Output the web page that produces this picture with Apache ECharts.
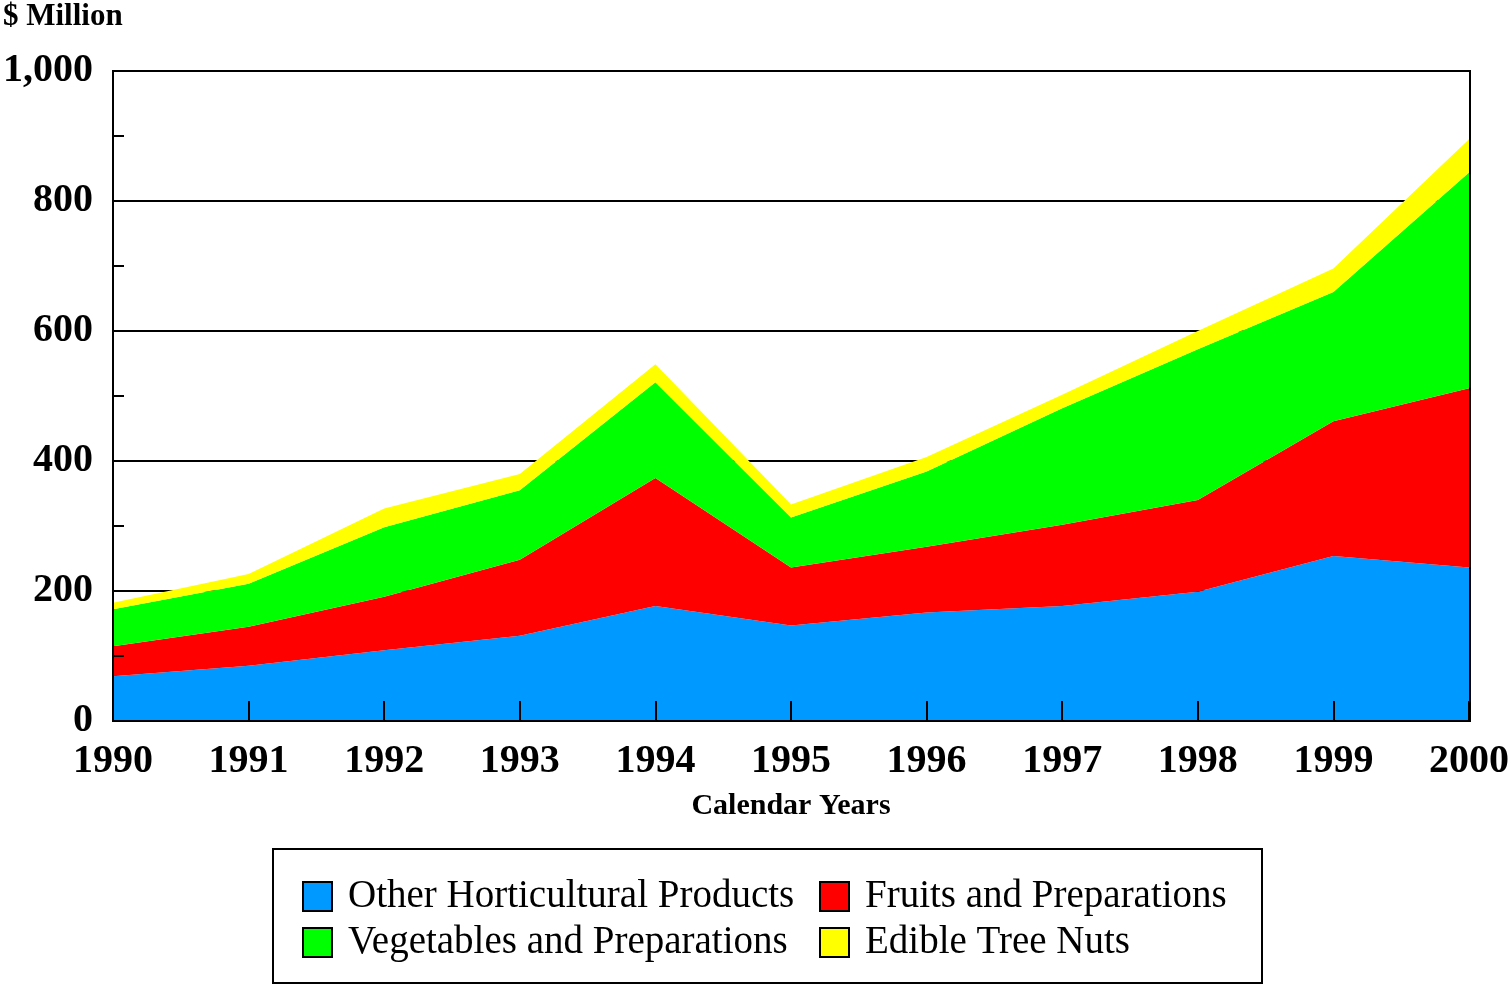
<!DOCTYPE html>
<html>
<head>
<meta charset="utf-8">
<script src="https://cdn.jsdelivr.net/npm/echarts@6/dist/echarts.min.js"></script>
<style>
  html, body { margin: 0; padding: 0; background: #fff; }
  #chart { width: 1512px; height: 985px; }
</style>
</head>
<body>
<div id="chart"></div>
<script>
// categories and values ($ million)
const years = ['1990', '1991', '1992', '1993', '1994', '1995', '1996', '1997', '1998', '1999', '2000']
const otherHort = [69, 85, 109, 131, 177, 147, 167, 177, 199, 254, 236]
const fruits = [46, 60, 82, 117, 197, 89, 101, 125, 141, 207, 276]
const vegetables = [57, 66, 107, 107, 147, 77, 116, 179, 232, 199, 332]
const treeNuts = [10, 15, 29, 25, 28, 20, 22, 21, 28, 36, 51]

const font = '"Liberation Serif", "Times New Roman", serif'

const chart = echarts.init(document.getElementById('chart'))

function area (name, color, data) {
  return {
    name: name,
    type: 'line',
    stack: 'total',
    symbol: 'none',
    showSymbol: false,
    lineStyle: { width: 0 },
    itemStyle: { color: color, borderColor: '#000', borderWidth: 1.5 },
    areaStyle: { color: color, opacity: 1 },
    emphasis: { disabled: true },
    data: data
  }
}

const legendBase = {
  orient: 'vertical',
  top: 877,
  padding: 0,
  itemWidth: 29,
  itemHeight: 29,
  itemGap: 7,
  icon: 'rect',
  textStyle: { fontFamily: font, fontSize: 39, color: '#000', padding: [0, 0, 0, 11] }
}

const yLabel = {
  fontFamily: font, fontSize: 40, fontWeight: 'bold', color: '#000', margin: 20,
  padding: [7, 0, 0, 0],
  formatter: v => v.toLocaleString('en-US')
}

chart.setOption({
  animation: false,
  title: {
    text: '$ Million',
    left: 3,
    top: 1,
    padding: 0,
    textStyle: { fontFamily: font, fontSize: 31, fontWeight: 'bold', color: '#000' }
  },
  legend: [
    Object.assign({ left: 302, data: ['Other Horticultural Products', 'Vegetables and Preparations'] }, legendBase),
    Object.assign({ left: 819, data: ['Fruits and Preparations', 'Edible Tree Nuts'] }, legendBase)
  ],
  grid: { left: 113, right: 42, top: 71, bottom: 264, containLabel: false },
  xAxis: {
    type: 'category',
    boundaryGap: false,
    data: years,
    name: 'Calendar Years',
    nameLocation: 'middle',
    nameGap: 70,
    nameTextStyle: { fontFamily: font, fontSize: 30, fontWeight: 'bold', color: '#000' },
    axisLine: { lineStyle: { color: '#000', width: 2 } },
    axisTick: { inside: true, length: 20, lineStyle: { color: '#000', width: 2 } },
    axisLabel: { fontFamily: font, fontSize: 40, fontWeight: 'bold', color: '#000', margin: 21, interval: 0 },
    splitLine: { show: false },
    z: 10
  },
  yAxis: [
    {
      // gridlines, kept under the areas
      type: 'value',
      min: 0,
      max: 1000,
      interval: 200,
      axisLine: { show: false },
      axisTick: { show: false },
      axisLabel: yLabel,
      splitLine: { show: true, lineStyle: { color: '#000', width: 2 } },
      z: 0
    },
    {
      // axis line and ticks, drawn over the areas
      type: 'value',
      position: 'left',
      min: 0,
      max: 1000,
      interval: 200,
      axisLine: { show: true, lineStyle: { color: '#000', width: 2 } },
      axisTick: { show: true, inside: true, length: 11, lineStyle: { color: '#000', width: 2 } },
      minorTick: { show: true, splitNumber: 2, length: 11, lineStyle: { color: '#000', width: 2 } },
      axisLabel: { show: false },
      splitLine: { show: false },
      z: 10
    }
  ],
  graphic: [
    {
      type: 'rect',
      z: 100,
      silent: true,
      shape: { x: 113, y: 71, width: 1357, height: 650 },
      style: { fill: 'none', stroke: '#000', lineWidth: 2 }
    },
    {
      type: 'rect',
      z: 100,
      silent: true,
      shape: { x: 273, y: 849, width: 989, height: 134 },
      style: { fill: 'none', stroke: '#000', lineWidth: 2 }
    }
  ],
  series: [
    area('Other Horticultural Products', '#0099ff', otherHort),
    area('Fruits and Preparations', '#ff0000', fruits),
    area('Vegetables and Preparations', '#00ff00', vegetables),
    area('Edible Tree Nuts', '#ffff00', treeNuts)
  ]
})
</script>
</body>
</html>
